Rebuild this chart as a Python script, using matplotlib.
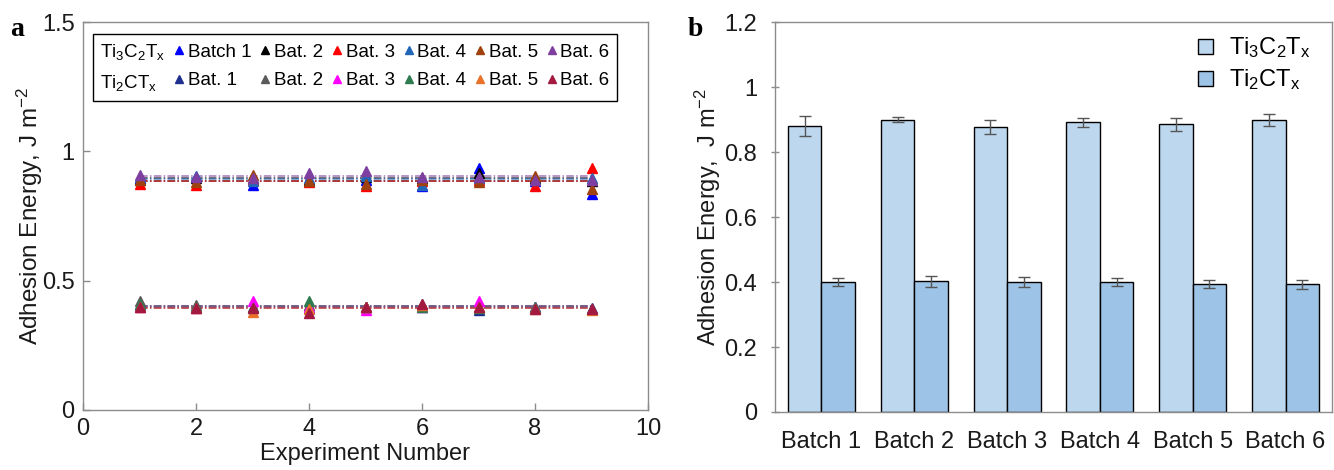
import numpy as np
import matplotlib
matplotlib.use("Agg")
import matplotlib.pyplot as plt
from matplotlib.lines import Line2D
from matplotlib.patches import Patch
from matplotlib.ticker import FuncFormatter

plt.rcParams['font.family'] = ['Liberation Sans', 'DejaVu Sans']
plt.rcParams['mathtext.fontset'] = 'custom'
plt.rcParams['mathtext.rm'] = 'Liberation Sans'
plt.rcParams['mathtext.it'] = 'Liberation Sans'

# ---------------- data ----------------
experiments = [1, 2, 3, 4, 5, 6, 7, 8, 9]

ti3_b1 = [0.895, 0.900, 0.870, 0.885, 0.890, 0.865, 0.935, 0.885, 0.835]
ti3_b2 = [0.890, 0.895, 0.895, 0.890, 0.900, 0.895, 0.915, 0.895, 0.885]
ti3_b3 = [0.875, 0.870, 0.890, 0.880, 0.865, 0.885, 0.890, 0.865, 0.935]
ti3_b4 = [0.900, 0.905, 0.885, 0.895, 0.905, 0.870, 0.895, 0.890, 0.895]
ti3_b5 = [0.890, 0.880, 0.910, 0.885, 0.875, 0.890, 0.880, 0.905, 0.855]
ti3_b6 = [0.910, 0.900, 0.895, 0.915, 0.925, 0.900, 0.900, 0.890, 0.890]

ti2_b1 = [0.405, 0.400, 0.400, 0.395, 0.400, 0.400, 0.385, 0.400, 0.395]
ti2_b2 = [0.420, 0.405, 0.400, 0.405, 0.400, 0.410, 0.400, 0.395, 0.390]
ti2_b3 = [0.400, 0.395, 0.420, 0.400, 0.385, 0.400, 0.420, 0.400, 0.390]
ti2_b4 = [0.410, 0.400, 0.395, 0.420, 0.400, 0.400, 0.395, 0.400, 0.390]
ti2_b5 = [0.400, 0.395, 0.380, 0.390, 0.400, 0.405, 0.400, 0.390, 0.385]
ti2_b6 = [0.400, 0.395, 0.395, 0.375, 0.400, 0.410, 0.400, 0.390, 0.390]

ti3_labels = ["Batch 1", "Bat. 2", "Bat. 3", "Bat. 4", "Bat. 5", "Bat. 6"]
ti2_labels = ["Bat. 1", "Bat. 2", "Bat. 3", "Bat. 4", "Bat. 5", "Bat. 6"]

batches = ["Batch 1", "Batch 2", "Batch 3", "Batch 4", "Batch 5", "Batch 6"]
ti3_mean = [0.880, 0.900, 0.878, 0.892, 0.885, 0.898]
ti3_err = [0.030, 0.008, 0.022, 0.014, 0.020, 0.018]
ti2_mean = [0.400, 0.403, 0.400, 0.400, 0.395, 0.393]
ti2_err = [0.013, 0.017, 0.015, 0.012, 0.012, 0.013]

# ---------------- styles ----------------
ti3_colors = ["#0000FF", "#000000", "#FF0000", "#2266B8", "#A0420F", "#7E3FA0"]
ti2_colors = ["#1F2F8F", "#5A5A5A", "#FF00FF", "#2E7B4F", "#E8722A", "#A3193F"]
spine_col = "#8C8C8C"
txt_col = "#1a1a1a"
FS = 17

fig = plt.figure(figsize=(13.34, 4.70), dpi=100)
W, H = 1334, 470

def ax_rect(l, t, r, b):
    return [l / W, 1 - b / H, (r - l) / W, (b - t) / H]

# ================= panel a =================
ax = fig.add_axes(ax_rect(83, 22, 648, 410))
ti3_series = [ti3_b1, ti3_b2, ti3_b3, ti3_b4, ti3_b5, ti3_b6]
ti2_series = [ti2_b1, ti2_b2, ti2_b3, ti2_b4, ti2_b5, ti2_b6]

for vals, c in zip(ti3_series + ti2_series, ti3_colors + ti2_colors):
    m = np.mean(vals)
    ax.plot([experiments[0], experiments[-1]], [m, m], linestyle=(0, (5, 1.5, 1, 1.5)),
            color=c, lw=1.1, alpha=0.7, zorder=2)
for vals, c in zip(ti3_series + ti2_series, ti3_colors + ti2_colors):
    ax.plot(experiments, vals, linestyle='none', marker='^', ms=6.5, color=c, zorder=3)

ax.set_xlim(0, 10)
ax.set_ylim(0, 1.5)
ax.set_xticks([0, 2, 4, 6, 8, 10])
ax.set_yticks([0, 0.5, 1, 1.5])
fmt = FuncFormatter(lambda v, p: f"{v:g}")
ax.yaxis.set_major_formatter(fmt)
ax.tick_params(direction='in', length=5, width=1, color=spine_col, labelsize=FS,
               labelcolor=txt_col, pad=6)
for s in ax.spines.values():
    s.set_color(spine_col)
    s.set_linewidth(1)
ax.set_xlabel("Experiment Number", fontsize=FS, color=txt_col, labelpad=2)
ax.set_ylabel("Adhesion Energy, J m$^{-2}$", fontsize=17.5, color=txt_col, labelpad=-2)

blank = Line2D([], [], linestyle='none', marker=None)
handles, labels = [blank, blank], ["Ti$_3$C$_2$T$_x$", "Ti$_2$CT$_x$"]
for i in range(6):
    handles.append(Line2D([], [], linestyle='none', marker='^', ms=6, color=ti3_colors[i]))
    labels.append(ti3_labels[i])
    handles.append(Line2D([], [], linestyle='none', marker='^', ms=6, color=ti2_colors[i]))
    labels.append(ti2_labels[i])
leg = ax.legend(handles, labels, ncol=7, loc='upper left',
                bbox_to_anchor=(0.017, 0.968), borderaxespad=0,
                fontsize=13.5, handlelength=0.6, handletextpad=0.15,
                columnspacing=0.45, labelspacing=0.6, borderpad=0.4,
                fancybox=False, framealpha=1, edgecolor='black')
leg.get_frame().set_linewidth(1)
try:
    col0 = leg._legend_handle_box.get_children()[0]
    for hp in col0.get_children():
        hp._children = [hp._children[1]]
except Exception:
    pass

fig.text(10 / W, 1 - 30 / H, "a", fontsize=20, fontweight='bold',
         family='Liberation Serif', va='center', ha='left')

# ================= panel b =================
bx = fig.add_axes(ax_rect(775, 22, 1332, 412))
xpos = np.arange(len(batches))
bw = 0.36
bx.bar(xpos - bw / 2, ti3_mean, bw, color="#BDD7EE", edgecolor='black', lw=1,
       label="Ti$_3$C$_2$T$_x$", zorder=2)
bx.bar(xpos + bw / 2, ti2_mean, bw, color="#9DC3E6", edgecolor='black', lw=1,
       label="Ti$_2$CT$_x$", zorder=2)
bx.errorbar(xpos - bw / 2, ti3_mean, yerr=ti3_err, fmt='none', ecolor='#555555',
            elinewidth=1, capsize=4, capthick=1, zorder=3)
bx.errorbar(xpos + bw / 2, ti2_mean, yerr=ti2_err, fmt='none', ecolor='#555555',
            elinewidth=1, capsize=4, capthick=1, zorder=3)
bx.set_xlim(-0.5, len(batches) - 0.5)
bx.set_ylim(0, 1.2)
bx.set_yticks([0, 0.2, 0.4, 0.6, 0.8, 1.0, 1.2])
bx.yaxis.set_major_formatter(fmt)
bx.set_xticks(xpos)
bx.set_xticklabels(batches)
bx.tick_params(axis='x', length=0, labelsize=FS, labelcolor=txt_col, pad=14)
bx.tick_params(axis='y', direction='inout', length=6, width=1, color=spine_col,
               labelsize=FS, labelcolor=txt_col, pad=10)
for s in bx.spines.values():
    s.set_color(spine_col)
    s.set_linewidth(1)
bx.set_ylabel("Adhesion Energy,  J m$^{-2}$", fontsize=FS, color=txt_col, labelpad=1)

lh = [Patch(facecolor="#BDD7EE", edgecolor='black', lw=1),
      Patch(facecolor="#9DC3E6", edgecolor='black', lw=1)]
bx.legend(lh, ["Ti$_3$C$_2$T$_x$", "Ti$_2$CT$_x$"], loc='upper right',
          bbox_to_anchor=(1.0, 1.02), frameon=False, fontsize=17,
          handlelength=0.6, handleheight=0.6, handletextpad=0.7, labelspacing=0.3)

fig.text(688 / W, 1 - 30 / H, "b", fontsize=20, fontweight='bold',
         family='Liberation Serif', va='center', ha='left')

fig.savefig("out.png", dpi=100)
